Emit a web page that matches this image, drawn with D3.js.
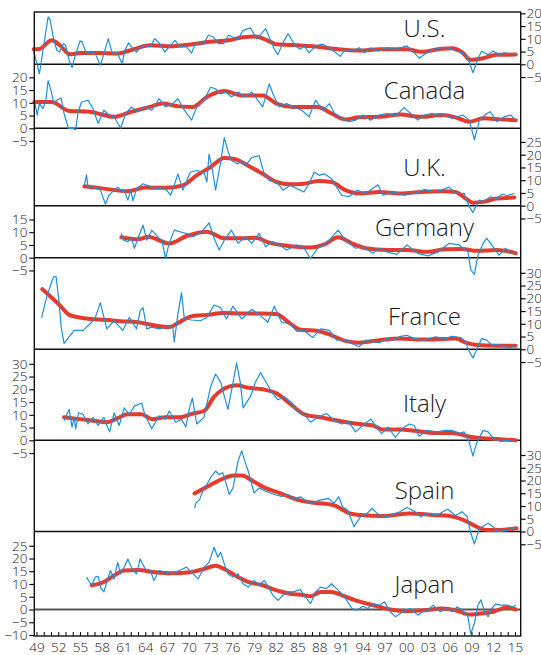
<!DOCTYPE html>
<html>
<head>
<meta charset="utf-8">
<script src="https://cdn.jsdelivr.net/npm/d3@7"></script>
<style>
  body { margin: 0; background: #fff; }
  svg { display: block; }
  text { font-family: "Open Sans", "Noto Sans", sans-serif; font-weight: 350; fill: #1a1a1a; }
</style>
</head>
<body>
<svg id="chart" width="541" height="655"></svg>
<script>
// Inflation by country: actual rate (blue) and smoothed trend (red), % per year
const countries = ["U.S.", "Canada", "U.K.", "Germany", "France", "Italy", "Spain", "Japan"];

const usActual = [[1948.6,5.5],[1949.4,-3.7],[1949.9,5.5],[1950.6,18.6],[1950.9,17.3],[1951.3,10.7],[1951.8,5.5],[1952.2,4.8],[1952.7,8.1],[1953.0,7.5],[1953.5,1.6],[1953.9,-1.3],[1954.3,2.9],[1955.0,9.2],[1955.3,8.8],[1955.8,4.8],[1956.4,4.8],[1957.1,4.2],[1957.8,-0.4],[1958.3,4.2],[1958.9,10.1],[1959.4,4.8],[1959.8,4.2],[1960.1,4.8],[1960.8,0.3],[1961.2,5.5],[1961.7,8.4],[1962.1,6.8],[1962.8,4.8],[1963.5,7.1],[1963.9,7.5],[1964.7,6.8],[1965.3,10.1],[1966.0,8.1],[1966.7,4.8],[1967.4,7.1],[1968.1,9.4],[1968.8,6.8],[1969.7,6.8],[1970.4,4.4],[1970.9,8.1],[1971.6,8.4],[1972.0,7.8],[1972.7,11.4],[1973.4,10.7],[1974.1,8.1],[1974.8,8.1],[1975.5,11.4],[1976.2,10.5],[1976.8,9.9],[1977.5,13.3],[1978.5,14.3],[1979.4,9.9],[1980.6,14],[1981.8,5.9],[1982.3,3.8],[1983.0,8.6],[1983.7,12],[1984.7,7.2],[1985.4,5.9],[1985.9,7.2],[1986.6,4.5],[1987.5,7.2],[1988.5,7.9],[1989.7,5.9],[1990.9,3.1],[1991.6,5.9],[1992.5,5.2],[1993.5,6.5],[1994.2,4.5],[1995.1,6.5],[1996.1,5.2],[1997.3,6.5],[1998.5,5.9],[2000.1,7.2],[2001.1,4.5],[2001.8,2.4],[2002.8,4.5],[2003.7,5.9],[2004.9,6.5],[2005.8,6.5],[2006.8,5.2],[2007.8,4.5],[2008.5,2.4],[2009.2,-3.3],[2009.9,2.4],[2010.4,5.1],[2011.3,3.8],[2012.0,5.2],[2012.8,3.8],[2013.5,4.5],[2014.4,4.2],[2015.1,4.1]];
const usTrend = [[1948.6,5.9],[1949.4,6],[1951.1,9.4],[1952.2,7.5],[1953.6,3.9],[1955.0,4.4],[1957.5,4.4],[1960.1,4.2],[1961.6,5.2],[1964.7,7.5],[1967.5,7.1],[1970.2,7.8],[1972.9,8.8],[1975.5,9.4],[1977.5,10.6],[1979.2,10.9],[1980.9,9.3],[1982.0,7.9],[1984.4,7.6],[1987.8,6.9],[1990.6,5.9],[1993.5,5.4],[1996.3,5.9],[2000.1,5.9],[2002.0,4.9],[2004.9,6.1],[2006.3,6.3],[2007.8,4.5],[2008.8,1.8],[2010.6,2.4],[2012.5,3.7],[2015.1,3.8]];

const caActual = [[1948.7,11],[1949.1,5.2],[1949.4,9.7],[1949.9,7.7],[1950.3,11],[1950.6,18.7],[1951.0,14.8],[1951.4,9.7],[1951.8,11],[1952.4,11.9],[1952.8,5.8],[1953.4,0],[1954.0,0],[1954.4,-0.6],[1954.7,5.8],[1955.2,10.3],[1956.1,11],[1956.8,7.7],[1957.5,1.9],[1958.3,7.1],[1959.0,5.2],[1959.7,4.5],[1960.6,0],[1961.3,5.8],[1962.1,8.4],[1963.0,6.5],[1964.0,8.4],[1964.9,7.1],[1965.9,11.6],[1966.8,8.4],[1967.8,9.7],[1968.5,11.6],[1969.4,7.1],[1970.4,3.2],[1971.1,8.4],[1972.1,11],[1973.0,16.1],[1973.7,15.5],[1974.4,13.5],[1975.1,14.2],[1975.9,12.3],[1976.8,14.2],[1977.8,12.3],[1978.7,14.2],[1980.2,8.4],[1981.1,17.4],[1981.8,12.3],[1982.5,8.4],[1983.5,9.7],[1984.4,8.4],[1985.6,7.1],[1986.6,4.5],[1987.5,11],[1988.5,7.1],[1989.4,9.7],[1990.1,5.8],[1991.1,3.9],[1992.1,2.6],[1993.0,3.2],[1994.0,5.2],[1995.1,3.2],[1996.3,5.2],[1997.3,5.8],[1998.7,5.2],[1999.7,8.1],[2000.6,5.8],[2001.6,3.2],[2002.5,5.2],[2003.5,5.8],[2004.4,5.2],[2005.4,5.2],[2006.3,3.9],[2007.8,5.2],[2008.7,3.2],[2009.4,-4.5],[2010.1,3.2],[2011.1,5.8],[2011.6,6.5],[2012.5,2.6],[2013.5,4.5],[2014.4,5.2],[2015.1,3.2]];
const caTrend = [[1948.7,10.3],[1951.1,10.3],[1953.5,6.8],[1956.3,6.5],[1958.3,5.2],[1959.7,4.5],[1962.1,6.5],[1964.9,8.6],[1966.3,9.7],[1968.7,8.6],[1970.6,8.4],[1972.5,12.3],[1974.9,14.6],[1977.3,12.9],[1980.2,12.9],[1982.1,9.7],[1984.4,8.4],[1987.8,8.4],[1989.7,5.8],[1991.6,3.5],[1993.5,4.3],[1996.3,4.5],[1999.2,5.4],[2002.0,4.5],[2004.9,5.2],[2006.8,4.3],[2008.7,2.6],[2010.6,3.9],[2013.0,3.5],[2015.1,3.2]];

const ukActual = [[1955.6,8],[1955.9,12.1],[1956.1,7.3],[1956.8,7.3],[1957.8,6.3],[1958.5,0.6],[1959.0,4.1],[1959.7,6.1],[1960.2,7.3],[1960.6,6.1],[1961.1,6.1],[1961.6,2.2],[1962.0,6.1],[1962.3,1.9],[1962.8,6.7],[1963.7,8.6],[1964.9,7.3],[1965.9,6.7],[1966.6,7.3],[1967.5,4.1],[1968.0,8],[1968.5,12.5],[1969.2,6.1],[1970.2,13.1],[1971.1,13.8],[1972.1,13.1],[1972.5,9.3],[1972.8,20.2],[1973.2,15.1],[1973.7,6.1],[1974.4,17],[1974.9,26.7],[1975.4,21.5],[1975.9,17.7],[1976.8,16.4],[1977.3,17.7],[1977.8,15.7],[1978.7,18.9],[1979.7,19.6],[1980.4,12.5],[1981.1,9.9],[1982.1,9.3],[1983.0,6.1],[1984.0,8],[1984.9,6.7],[1985.9,5.4],[1986.6,8.6],[1987.3,13.1],[1988.0,11.9],[1988.7,12.5],[1989.7,10.6],[1990.4,7.3],[1991.1,4.1],[1992.1,3.5],[1993.2,6.1],[1994.4,4.8],[1996.1,8.2],[1996.8,4.1],[1998.2,5.4],[1999.7,4.1],[2001.1,4.8],[2002.5,6.3],[2004.0,5.4],[2004.9,6.1],[2005.9,7.3],[2006.8,4.8],[2008.0,4.8],[2008.7,-0.4],[2009.2,-2.7],[2009.7,0.3],[2010.1,2.2],[2010.6,1.5],[2011.6,3.5],[2012.5,2.8],[2013.2,4.5],[2013.9,4],[2014.9,4.8]];
const ukTrend = [[1955.6,7.6],[1958.3,6.7],[1961.6,5.7],[1964.0,7.1],[1966.8,7],[1969.2,8],[1971.1,11.9],[1973.0,15.1],[1974.9,18.7],[1976.3,18.3],[1978.2,15.7],[1980.2,12.5],[1982.1,9.3],[1984.0,8.4],[1985.9,8.6],[1987.8,9.7],[1989.7,9.3],[1991.6,6.1],[1993.5,4.8],[1996.3,5.4],[1999.2,4.8],[2002.0,5.4],[2004.9,5.7],[2006.8,5.4],[2008.2,2.8],[2009.2,1.2],[2010.6,1.5],[2012.5,2.8],[2014.9,3.2]];

const deActual = [[1960.7,9.5],[1961.0,6.9],[1961.6,6.3],[1962.1,7.6],[1962.5,3.7],[1963.0,7.6],[1963.7,12.8],[1964.2,6.9],[1964.9,10.8],[1965.9,7.6],[1966.3,6.9],[1966.8,-0.3],[1967.3,5.6],[1968.0,10.8],[1968.7,10.2],[1969.7,9.5],[1970.6,8.2],[1971.8,10.2],[1972.8,13.7],[1973.5,7.6],[1974.2,3],[1974.9,6.9],[1975.9,10.8],[1976.8,5.6],[1977.8,8.2],[1978.7,5.6],[1979.7,9.5],[1980.6,4.3],[1981.6,6.3],[1982.5,5],[1983.5,3],[1984.9,5],[1985.9,3.7],[1986.8,-0.3],[1987.8,3.7],[1989.2,6.3],[1990.6,10.8],[1991.6,6.9],[1993.0,3.7],[1994.0,4.3],[1995.4,1.7],[1996.3,3.7],[1997.3,2.3],[1998.7,1.3],[2000.1,5],[2001.6,1.7],[2003.0,0.7],[2004.4,2.3],[2005.9,5.6],[2007.3,5],[2008.5,2.3],[2008.9,-4.8],[2009.4,-6.5],[2009.9,1],[2010.6,5.6],[2011.1,7.6],[2011.8,5],[2012.8,1],[2013.7,3.7],[2014.4,1.7],[2015.1,1.7]];
const deTrend = [[1960.7,8],[1963.0,7.2],[1964.4,8.2],[1967.3,5.6],[1969.7,8.5],[1972.5,10.2],[1974.9,7.6],[1977.3,7.6],[1979.2,7.8],[1981.1,5.9],[1983.5,4.7],[1986.8,4],[1988.7,5.2],[1990.6,8],[1992.5,5.6],[1994.4,3.7],[1997.3,3],[2000.1,3],[2003.0,2.3],[2005.4,3.3],[2007.8,3.4],[2009.7,2.7],[2012.5,3],[2015.1,1.8]];

const frActual = [[1949.7,12.3],[1950.2,18.3],[1950.6,22.1],[1951.1,26.6],[1951.4,28.5],[1951.7,28.5],[1952.1,18.9],[1952.4,8.7],[1952.8,2.3],[1953.3,4.2],[1954.2,7.4],[1955.4,7.4],[1956.4,10],[1957.1,12.3],[1957.8,18.3],[1958.7,8],[1959.7,11.2],[1960.9,7.4],[1961.8,12.5],[1962.8,8],[1963.3,15.1],[1963.7,16.3],[1964.2,8],[1964.9,8.7],[1965.9,8],[1966.8,8.7],[1967.8,8.7],[1968.0,2.9],[1968.5,13.8],[1969.0,22.1],[1969.4,11.9],[1970.4,11.5],[1971.6,11.2],[1972.5,12.5],[1973.5,17.4],[1974.4,16.3],[1975.2,11.9],[1976.1,16.9],[1977.3,11.9],[1978.7,15.7],[1979.9,13.2],[1980.9,10.6],[1981.8,16.9],[1982.8,10.6],[1984.0,10],[1984.9,7],[1985.9,7.4],[1987.1,4.6],[1988.2,8],[1989.4,7.4],[1990.4,3.6],[1991.6,3.8],[1992.5,2.3],[1993.5,1],[1994.4,3.6],[1995.4,2.9],[1996.3,2.6],[1997.3,4.2],[1998.2,3.6],[1999.2,5.1],[2000.1,5.5],[2001.1,4.2],[2002.5,3.6],[2004.0,4.9],[2005.4,4.2],[2006.3,5.1],[2007.5,4.6],[2008.2,2.9],[2008.7,-0.9],[2009.2,-3.4],[2009.7,-0.3],[2010.4,4.2],[2011.1,3.6],[2011.8,1.7],[2013.0,1.7],[2014.2,0.4],[2015.1,1.7]];
const frTrend = [[1949.8,23.6],[1951.1,20.2],[1952.3,17],[1953.5,13.5],[1954.9,12.5],[1956.4,11.9],[1958.3,11.6],[1960.6,11],[1963.0,10.6],[1965.4,9.3],[1967.3,8.7],[1968.7,10.6],[1970.2,12.8],[1972.5,13.5],[1974.9,14.2],[1977.3,14],[1980.2,14],[1982.1,13.8],[1983.5,11.2],[1985.4,7.7],[1987.8,7.2],[1989.7,5.5],[1991.6,3.3],[1993.5,2.6],[1996.3,3.6],[1999.2,4.2],[2002.0,3.8],[2004.9,4],[2006.8,4.2],[2008.2,2.6],[2009.7,1.7],[2012.5,1.4],[2015.1,1.4]];

const itActual = [[1952.8,7.7],[1953.1,9.6],[1953.5,12.1],[1953.9,5.2],[1954.2,9],[1954.4,4.5],[1954.8,10.8],[1955.4,10.2],[1956.1,6.4],[1956.8,9],[1957.5,5.8],[1958.3,9],[1958.7,5.8],[1959.1,3.3],[1959.7,10.8],[1960.4,5.8],[1961.1,12.7],[1961.8,10.2],[1962.5,13.4],[1963.5,14.6],[1964.0,9.6],[1964.9,4.5],[1965.9,9.6],[1966.8,8.3],[1967.3,11.5],[1968.2,7.1],[1969.0,8.3],[1969.6,5.2],[1970.1,12.7],[1970.5,16.5],[1971.1,6.4],[1972.1,9],[1973.0,20.9],[1973.7,26],[1974.4,22.8],[1975.4,12.1],[1975.9,19.5],[1976.6,30.4],[1977.1,22.8],[1977.5,12.7],[1978.5,17.1],[1979.2,22.8],[1979.9,26.6],[1980.9,21.6],[1981.6,18.4],[1982.3,15.9],[1983.2,17.1],[1984.2,14.6],[1984.9,11.5],[1985.9,10.2],[1986.8,7.1],[1987.8,9],[1989.0,10.5],[1990.1,7.7],[1991.1,6.4],[1992.1,7.1],[1993.0,3.3],[1994.0,5.8],[1995.1,8.3],[1995.9,5.2],[1996.6,2.6],[1997.5,5.2],[1998.5,1.1],[1999.4,4.5],[2000.4,6.4],[2001.1,5.8],[2001.8,1.6],[2002.8,3.9],[2004.2,3.3],[2005.4,3.9],[2006.3,3.9],[2007.3,2.6],[2008.0,3.3],[2008.7,-0.9],[2009.2,-6.2],[2009.7,-1.1],[2010.6,3.9],[2011.3,3.3],[2012.0,0.8],[2013.0,-0.5],[2013.9,0.1],[2014.9,-0.5]];
const itTrend = [[1952.8,9],[1954.9,8.3],[1956.8,7.7],[1958.7,7.1],[1960.2,8.7],[1961.6,10.2],[1963.5,10.2],[1964.9,8.3],[1966.8,9],[1968.7,9],[1970.6,10.5],[1972.1,11.5],[1973.5,17.1],[1974.9,20.3],[1976.6,21.6],[1978.2,20.6],[1980.2,20],[1982.1,18.4],[1983.9,14.6],[1985.9,10.2],[1988.2,9],[1990.6,7.7],[1993.5,6.4],[1995.4,5.8],[1996.8,4.2],[1999.2,4.2],[2001.1,3.7],[2004.0,2.9],[2006.3,2.9],[2008.7,1.4],[2010.6,0.8],[2012.5,0.5],[2015.1,0]];

const esActual = [[1970.8,9.2],[1971.0,11.2],[1971.5,12.5],[1972.1,17.1],[1972.5,18.4],[1973.0,21.1],[1973.7,23.7],[1974.2,22.4],[1974.7,23],[1975.2,18.4],[1975.6,14.5],[1976.1,17.1],[1976.8,27.6],[1977.3,31.6],[1977.8,27],[1978.2,23.7],[1979.0,15.1],[1979.7,17.1],[1980.6,15.8],[1981.8,14.5],[1982.8,13.8],[1983.7,14.5],[1984.4,12.5],[1985.4,13.6],[1986.7,11],[1988.1,12.3],[1989.3,13],[1990.0,11],[1990.7,13.6],[1991.2,9.7],[1991.9,8.4],[1992.8,1.9],[1993.7,5.8],[1994.6,7.1],[1995.3,9.1],[1996.2,6.5],[1997.4,5.8],[1998.3,6.8],[1999.2,7.8],[2000.1,9.4],[2001.1,8],[2002.0,5.8],[2002.9,7.1],[2004.3,6.5],[2005.7,8.8],[2006.8,6.2],[2007.7,7.8],[2008.4,5.8],[2008.9,-0.6],[2009.4,-4.9],[2010.1,1.3],[2011.3,3.2],[2012.0,1.9],[2012.7,0],[2014.1,0.6],[2015.0,1.6]];
const esTrend = [[1970.8,14.9],[1972.5,17.5],[1974.4,20.3],[1976.2,22],[1977.3,22],[1979.0,19.5],[1980.6,17],[1982.1,15.5],[1984.0,13.5],[1985.3,12.2],[1987.5,11.2],[1989.9,10.4],[1992.2,7.1],[1993.6,6.5],[1996.8,6.1],[2000.5,7.1],[2003.7,6.5],[2006.0,6.1],[2007.9,4.5],[2009.2,2.6],[2011.1,0.6],[2012.9,0.6],[2015.2,1.3]];

const jpActual = [[1955.9,12.7],[1956.3,10.8],[1956.6,9.5],[1957.1,12.7],[1957.5,13],[1957.9,8.2],[1958.3,6.9],[1958.7,10.8],[1959.2,15.3],[1959.7,12],[1960.2,18.5],[1960.6,13.9],[1961.1,16.6],[1961.6,19.8],[1962.3,15.3],[1962.8,14],[1963.3,19.8],[1964.0,15.9],[1964.7,15.3],[1965.2,11.4],[1965.9,15.3],[1966.8,14.6],[1967.8,14],[1968.7,15.3],[1969.7,16.6],[1970.6,14],[1971.3,12],[1972.1,16.6],[1972.8,18.5],[1973.5,24.4],[1974.0,20.5],[1974.4,22.4],[1974.9,17.9],[1975.4,14],[1976.1,12.7],[1976.8,14],[1977.5,10.1],[1978.2,8.8],[1979.0,11.4],[1979.7,9.5],[1980.4,11.4],[1981.1,8.2],[1981.6,5.6],[1982.3,3.6],[1983.0,5.6],[1983.7,6.9],[1984.4,6.9],[1985.4,7.8],[1986.1,4.9],[1986.8,2.3],[1987.5,6.9],[1988.2,8.8],[1989.0,8.2],[1989.7,10.1],[1990.4,8.2],[1991.1,6.2],[1991.8,3.6],[1992.5,0.4],[1993.2,-0.3],[1994.0,1.3],[1994.7,0.4],[1995.4,2.3],[1996.3,1.7],[1997.0,3],[1997.8,-0.9],[1998.5,-2.8],[1999.2,-1.6],[1999.9,-0.3],[2000.6,0.4],[2001.6,-2.2],[2002.3,-0.9],[2003.0,-0.3],[2003.7,1.7],[2004.7,-0.9],[2005.6,0.4],[2006.3,-0.9],[2007.0,1],[2007.8,-0.3],[2008.5,-2.8],[2008.9,-9.6],[2009.4,-5.4],[2009.9,1.7],[2010.3,3.8],[2010.9,-1.6],[2011.3,-2.8],[2011.8,0.4],[2012.3,2.1],[2013.0,1.7],[2013.9,1.7],[2014.7,1],[2015.1,1.7]];
const jpTrend = [[1956.6,9.5],[1958.3,10.8],[1959.7,13.3],[1961.1,15.3],[1963.0,15.5],[1965.4,14.6],[1967.8,14.2],[1970.2,14.6],[1972.1,15.9],[1973.7,17.2],[1974.9,15.9],[1976.8,12.7],[1978.2,10.8],[1980.2,9.5],[1982.1,7.5],[1984.0,6.2],[1985.9,5.6],[1986.8,5.2],[1988.2,6.9],[1989.7,6.9],[1991.1,5.6],[1993.0,3.6],[1995.4,1.7],[1997.8,0],[2000.1,-0.6],[2002.5,-0.3],[2004.9,0.4],[2006.8,-0.3],[2008.7,-2],[2010.1,-1.6],[2012.0,-0.9],[2013.9,0.8],[2015.1,0]];

const actualSeries = [usActual, caActual, ukActual, deActual, frActual, itActual, esActual, jpActual];
const trendSeries  = [usTrend, caTrend, ukTrend, deTrend, frTrend, itTrend, esTrend, jpTrend];

// Tick values of each panel's own value axis
const panelTicks = [
  [-5, 0, 5, 10, 15, 20],
  [-5, 0, 5, 10, 15, 20],
  [-5, 0, 5, 10, 15, 20, 25],
  [-5, 0, 5, 10, 15],
  [-5, 0, 5, 10, 15, 20, 25, 30],
  [-5, 0, 5, 10, 15, 20, 25, 30],
  [-5, 0, 5, 10, 15, 20, 25, 30],
  [-10, -5, 0, 5, 10, 15, 20, 25]
];
const axisSide = ["right", "left", "right", "left", "right", "left", "right", "left"];

const yearTicks = d3.range(1949, 2016);
const labelledYears = d3.range(1949, 2016, 3);

// ---- layout ----
const frame = { left: 34.3, right: 520.7, top: 12, bottom: 636 };
const zeroY = [64.3, 128.3, 205.7, 257.7, 349.3, 440.3, 531.5, 609.5];
const nameBaseline = [36.5, 99.3, 175.7, 236, 325, 412, 498.5, 593.3];
const pxPerUnit = 2.55;
const nameX = 424.5;
const tickFont = 13.5;

const blue = "#1f8fd8";
const red = "#e43b2f";

const svg = d3.select("#chart");

const x = d3.scaleLinear().domain([1949, 2015]).range([36.5, 515]);

const gPanels = svg.append("g");

countries.forEach((name, i) => {
  const z = zeroY[i];
  const y = d3.scaleLinear().domain([0, 10]).range([z, z - 10 * pxPerUnit]);
  const g = gPanels.append("g");

  // zero line
  const last = i === countries.length - 1;
  g.append("line")
    .attr("x1", frame.left).attr("x2", frame.right)
    .attr("y1", y(0)).attr("y2", y(0))
    .attr("stroke", last ? "#555" : "#111")
    .attr("stroke-width", last ? 2 : 1.6);

  // value axis
  const isRight = axisSide[i] === "right";
  const axis = (isRight ? d3.axisRight(y) : d3.axisLeft(y))
    .tickValues(panelTicks[i])
    .tickSize(5)
    .tickSizeOuter(0)
    .tickPadding(isRight ? 0.8 : 1.8)
    .tickFormat(d3.format("d"));
  const ga = g.append("g")
    .attr("transform", `translate(${isRight ? frame.right : frame.left},0)`)
    .call(axis);
  ga.select(".domain").remove();
  ga.selectAll(".tick line").attr("stroke", "#111").attr("stroke-width", 1.2);
  ga.selectAll(".tick text")
    .attr("font-size", tickFont)
    .attr("font-family", "\"Open Sans\", sans-serif")
    .attr("font-weight", 350)
    .attr("fill", "#1a1a1a");

  const trendLine = d3.line()
    .x(d => x(d[0])).y(d => y(d[1]))
    .curve(d3.curveMonotoneX);
  const actualLine = d3.line()
    .x(d => x(d[0])).y(d => y(d[1]));

  g.append("path")
    .datum(trendSeries[i])
    .attr("d", trendLine)
    .attr("fill", "none")
    .attr("stroke", red)
    .attr("stroke-width", 4)
    .attr("stroke-linecap", "round")
    .attr("stroke-linejoin", "round");

  g.append("path")
    .datum(actualSeries[i])
    .attr("d", actualLine)
    .attr("fill", "none")
    .attr("stroke", blue)
    .attr("stroke-width", 1.2)
    .attr("stroke-linejoin", "round");

  g.append("text")
    .attr("x", nameX)
    .attr("y", nameBaseline[i])
    .attr("text-anchor", "middle")
    .attr("font-size", 24)
    .attr("font-weight", 350)
    .text(name);
});

// frame
svg.append("rect")
  .attr("x", frame.left).attr("y", frame.top)
  .attr("width", frame.right - frame.left)
  .attr("height", frame.bottom - frame.top)
  .attr("fill", "none")
  .attr("stroke", "#111")
  .attr("stroke-width", 1.4);

// year axis: a small tick for every year, labels every third year
const xAxis = d3.axisBottom(x)
  .tickValues(yearTicks)
  .tickSize(-4)
  .tickSizeOuter(0)
  .tickPadding(6)
  .tickFormat(d => labelledYears.includes(d) ? String(d).slice(2) : "");
const gx = svg.append("g")
  .attr("transform", `translate(0,${frame.bottom})`)
  .call(xAxis);
gx.select(".domain").remove();
gx.selectAll(".tick line").attr("stroke", "#111").attr("stroke-width", 1.1);
gx.selectAll(".tick text")
  .attr("font-size", tickFont)
  .attr("font-family", "\"Open Sans\", sans-serif")
  .attr("font-weight", 350)
  .attr("fill", "#1a1a1a");
</script>
</body>
</html>
